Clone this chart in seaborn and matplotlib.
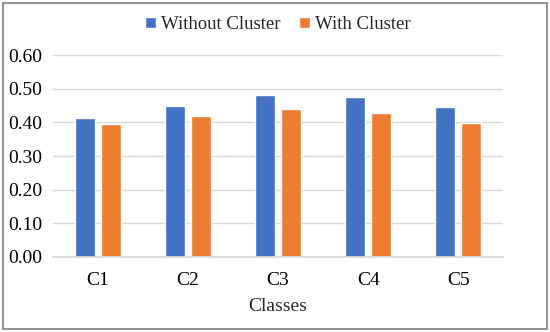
import matplotlib
matplotlib.use("Agg")
import matplotlib.pyplot as plt
import pandas as pd
import seaborn as sns
from matplotlib.patches import Rectangle

classes = ["C1", "C2", "C3", "C4", "C5"]
without_cluster = [0.412, 0.448, 0.482, 0.475, 0.447]
with_cluster = [0.394, 0.420, 0.439, 0.428, 0.399]
y_ticks = [0.0, 0.1, 0.2, 0.3, 0.4, 0.5, 0.6]

df = pd.DataFrame({
    "Classes": classes * 2,
    "value": without_cluster + with_cluster,
    "series": ["Without Cluster"] * len(classes) + ["With Cluster"] * len(classes),
})

sns.set_theme(style="white")
plt.rcParams["font.family"] = ["Liberation Serif", "DejaVu Serif"]

fig = plt.figure(figsize=(5.5, 3.32), dpi=100)
ax = fig.add_axes([0.0964, 0.226, 0.8185, 0.608])

sns.barplot(
    data=df, x="Classes", y="value", hue="series",
    palette=["#4472C4", "#ED7D31"], width=0.57, gap=0.22,
    saturation=1, ax=ax, legend=True,
)

ax.set_ylim(0, 0.6)
ax.set_yticks(y_ticks)
ax.set_yticklabels([f"{t:.2f}" for t in y_ticks])
ax.yaxis.grid(True, color="#D9D9D9", linewidth=1)
ax.set_axisbelow(True)
for side in ["top", "right", "left"]:
    ax.spines[side].set_visible(False)
ax.spines["bottom"].set_color("#D9D9D9")
ax.tick_params(axis="y", length=0, labelsize=14, colors="black", pad=8)
ax.tick_params(axis="x", length=0, labelsize=14, colors="black", pad=11)
ax.set_xlabel("Classes", fontsize=14, labelpad=6)
ax.set_ylabel("")

handles, labels = ax.get_legend_handles_labels()
ax.legend(
    handles, labels, loc="center", bbox_to_anchor=(0.5, 1.15),
    ncol=2, frameon=False, fontsize=13.5, handlelength=0.55, handleheight=0.55,
    handletextpad=0.3, columnspacing=1.0,
)

fig.patches.append(Rectangle((0.005, 0.01), 0.99, 0.98, transform=fig.transFigure,
                             fill=False, edgecolor="#7F7F7F", linewidth=1.2))

fig.savefig("out.png", dpi=100)
